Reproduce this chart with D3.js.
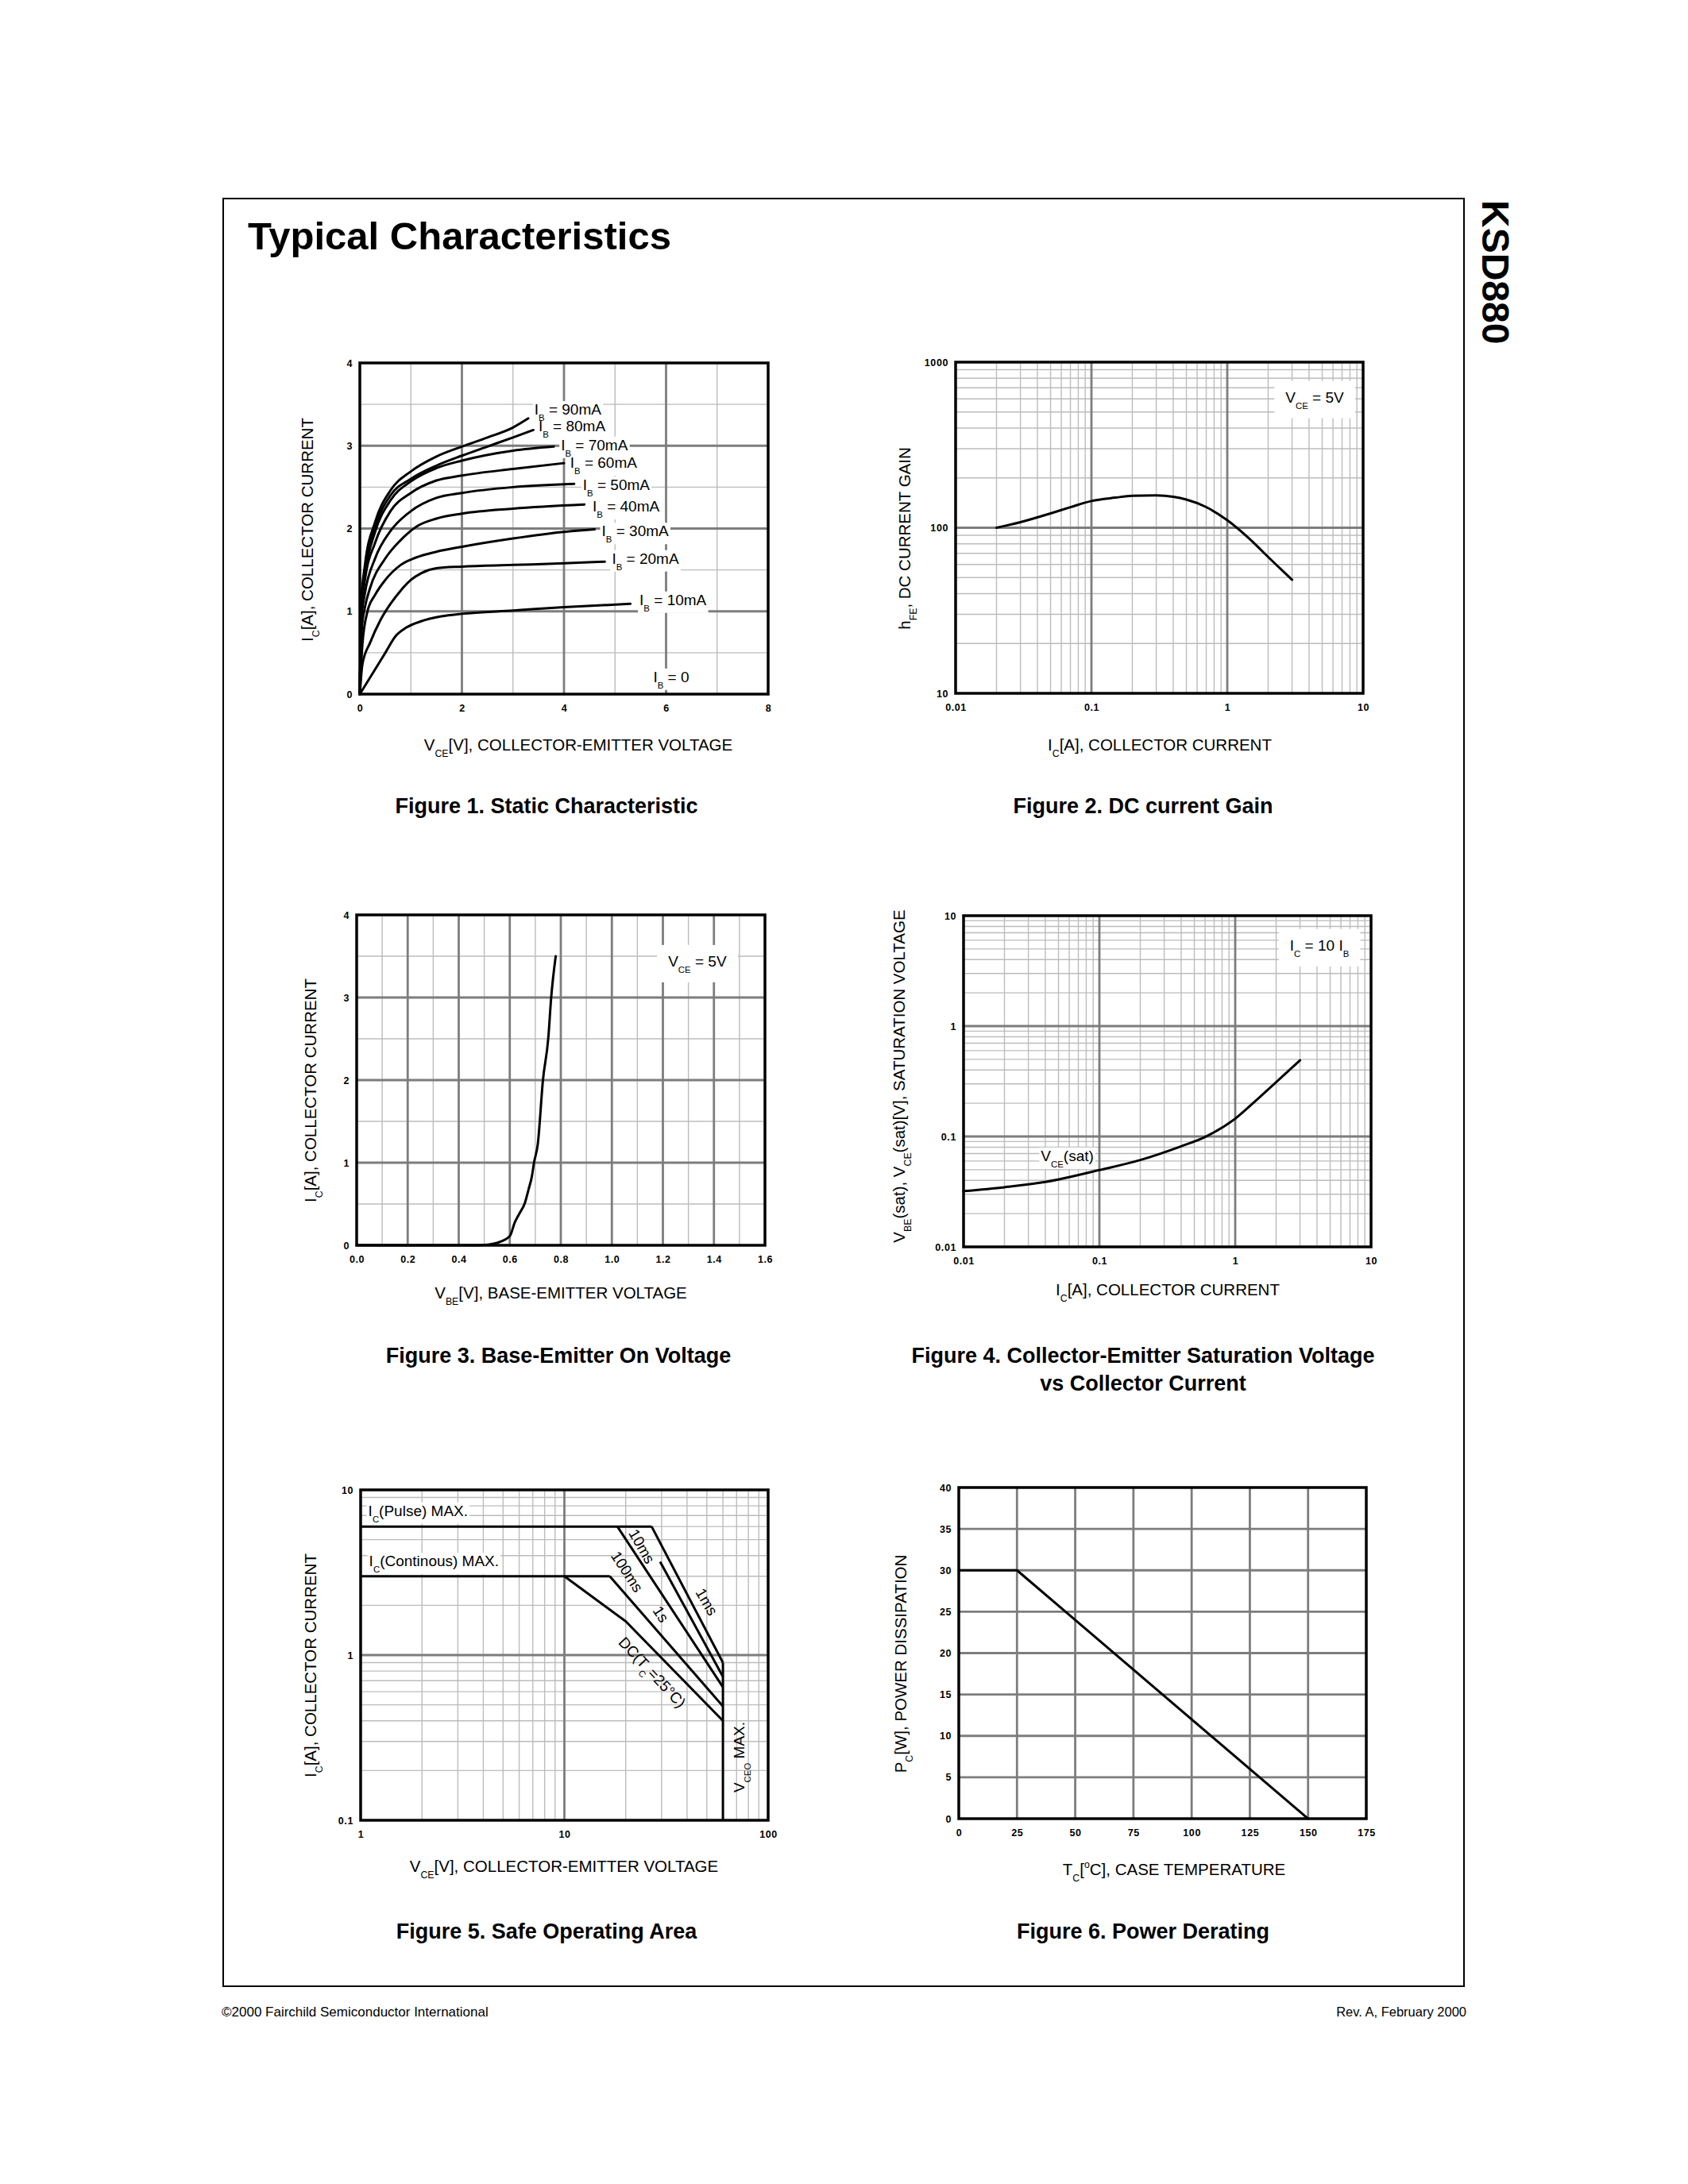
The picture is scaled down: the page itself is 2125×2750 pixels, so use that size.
<!DOCTYPE html>
<html>
<head>
<meta charset="utf-8">
<script src="https://cdn.jsdelivr.net/npm/d3@7"></script>
<style>
  body { margin: 0; background: #fff; }
  text { font-family: "Liberation Sans", Arial, Helvetica, sans-serif; fill: #000; }
</style>
</head>
<body>
<svg id="page" width="2125" height="2750"></svg>
<script>
// ---------- data ----------

// Fig 1 static characteristic, Vce[V] / Ic[A]
const fig1XTicks = [0, 2, 4, 6, 8];
const fig1YTicks = [0, 1, 2, 3, 4];
const ibLabels = ['I_{B} = 90mA', 'I_{B} = 80mA', 'I_{B} = 70mA', 'I_{B} = 60mA', 'I_{B} = 50mA',
                  'I_{B} = 40mA', 'I_{B} = 30mA', 'I_{B} = 20mA', 'I_{B} = 10mA', 'I_{B} = 0'];
const ibLabelAt = [[3.42, 3.44], [3.50, 3.24], [3.94, 3.01], [4.12, 2.80], [4.37, 2.53],
                   [4.56, 2.27], [4.74, 1.97], [4.94, 1.64], [5.48, 1.14], [5.75, 0.21]];
const ib10 = [[0,0],[0.3,0.3],[0.5,0.5],[0.7,0.7],[0.9,0.8],[1.2,0.88],[1.6,0.94],[2,0.97],[3,1.01],[4,1.05],[5.3,1.09]];
const ib20 = [[0,0],[0.05,0.36],[0.2,0.62],[0.4,0.89],[0.6,1.09],[0.8,1.25],[1.0,1.38],[1.2,1.46],[1.5,1.52],[2,1.54],[3,1.56],[4,1.58],[4.8,1.6]];
const ib30 = [[0,0],[0.05,0.6],[0.15,1.0],[0.3,1.2],[0.5,1.38],[0.8,1.56],[1.1,1.65],[1.5,1.72],[2,1.78],[3,1.88],[4,1.96],[4.6,1.99]];
const ib40 = [[0,0],[0.04,0.8],[0.1,1.05],[0.2,1.28],[0.5,1.64],[0.8,1.86],[1.1,2.02],[1.5,2.12],[2,2.18],[3,2.24],[4.4,2.29]];
const ib50 = [[0,0],[0.03,0.9],[0.1,1.22],[0.3,1.64],[0.6,1.97],[1.0,2.21],[1.5,2.37],[2,2.43],[3,2.5],[4.2,2.54]];
const ib60 = [[0,0],[0.03,1.0],[0.1,1.38],[0.3,1.83],[0.6,2.21],[1.0,2.43],[1.5,2.58],[2,2.64],[3,2.72],[4,2.79]];
const ib70 = [[0,0],[0.03,1.05],[0.1,1.44],[0.3,1.96],[0.6,2.34],[1.0,2.57],[1.5,2.73],[2,2.82],[3,2.94],[3.8,2.99]];
const ib80 = [[0,0],[0.03,1.1],[0.1,1.5],[0.3,2.02],[0.6,2.4],[1.0,2.6],[1.5,2.76],[2,2.88],[2.5,2.99],[3,3.1],[3.4,3.19]];
const ib90 = [[0,0],[0.03,1.12],[0.1,1.56],[0.3,2.08],[0.6,2.46],[1.0,2.69],[1.5,2.87],[2,2.99],[2.5,3.1],[3,3.22],[3.3,3.33]];
const ibCurves = [ib10, ib20, ib30, ib40, ib50, ib60, ib70, ib80, ib90];

// Fig 2 DC current gain
const fig2XTicks = [0.01, 0.1, 1, 10];
const fig2YTicks = [10, 100, 1000];
const hfeIc   = [0.02, 0.03, 0.05, 0.07, 0.1, 0.15, 0.2, 0.3, 0.4, 0.5, 0.69, 1, 1.45, 2.06, 3];
const hfeGain = [100, 108, 122, 133, 145, 152, 156, 157, 154, 148, 134, 111, 86, 65, 48.5];
const fig2NoteAt = [4.4, 615];

// Fig 3 base-emitter on voltage
const fig3XTicks = [0, 0.2, 0.4, 0.6, 0.8, 1.0, 1.2, 1.4, 1.6];
const fig3YTicks = [0, 1, 2, 3, 4];
const vbeOn = [0, 0.45, 0.5, 0.55, 0.6, 0.62, 0.637, 0.66, 0.674, 0.687, 0.695, 0.71, 0.73, 0.751, 0.762, 0.78];
const icOn  = [0, 0, 0.005, 0.03, 0.11, 0.28, 0.38, 0.52, 0.68, 0.84, 1.0, 1.23, 2.0, 2.51, 2.99, 3.5];
const fig3NoteAt = [1.335, 3.44];

// Fig 4 saturation voltage
const fig4XTicks = [0.01, 0.1, 1, 10];
const fig4YTicks = [0.01, 0.1, 1, 10];
const satIc  = [0.01, 0.02, 0.04, 0.1, 0.2, 0.4, 0.6, 1, 1.5, 2, 3];
const vceSat = [0.032, 0.0347, 0.0387, 0.0496, 0.0612, 0.0815, 0.099, 0.145, 0.225, 0.31, 0.49];
const fig4NoteAt = [4.17, 5.4];
const vceSatLabelAt = [0.058, 0.067];

// Fig 5 safe operating area, [Vce, Ic]
const fig5XTicks = [1, 10, 100];
const fig5YTicks = [0.1, 1, 10];
const soaPulse = [[1, 6], [26.8, 6]];
const soaCont  = [[1, 3], [16.7, 3]];
const soa1ms   = [[26.8, 6], [60, 0.9]];
const soa10ms  = [[29.5, 3.67], [60, 0.74]];
const soa100ms = [[18.2, 6], [60, 0.64]];
const soa1s    = [[16.7, 3], [60, 0.49]];
const soaDC    = [[10, 3], [20, 1.6], [60, 0.4]];
const soaVceo  = [[60, 0.9], [60, 0.1]];
const soaLines = [soaPulse, soaCont, soa1ms, soa10ms, soa100ms, soa1s, soaDC, soaVceo];
const soaLabels  = ['10ms', '100ms', '1s', '1ms', 'DC(T_{C}=25°C)'];
const soaLabelAt = [[24, 4.55], [20.3, 3.2], [29.8, 1.77], [50, 2.1], [27, 0.787]];
const soaLabelAngle = [60, 57, 57, 60, 47];

// Fig 6 power derating
const fig6XTicks = [0, 25, 50, 75, 100, 125, 150, 175];
const fig6YTicks = [0, 5, 10, 15, 20, 25, 30, 35, 40];
const caseTemp = [0, 25, 150];
const powerDiss = [30, 30, 0];

// ---------- drawing ----------
const svg = d3.select('#page');
svg.append('rect').attr('width', 2125).attr('height', 2750).attr('fill', '#fff');

const MAJOR = '#7d7d7d', MINOR = '#bcbcbc';

// text with _{sub} and ^{sup}
function rich(sel, str, size) {
  const parts = str.split(/(_\{[^}]*\}|\^\{[^}]*\})/).filter(s => s.length);
  let shift = 0;
  parts.forEach(p => {
    const t = sel.append('tspan');
    if (p.startsWith('_{')) {
      const d = size * 0.42;
      t.attr('dy', d - shift).attr('font-size', size * 0.6).text(p.slice(2, -1));
      shift = d;
    } else if (p.startsWith('^{')) {
      const d = -size * 0.42;
      t.attr('dy', d - shift).attr('font-size', size * 0.6).text(p.slice(2, -1));
      shift = d;
    } else {
      t.attr('dy', -shift).text(p);
      shift = 0;
    }
  });
  return sel;
}

// label with optional white box; boxes go in their own layer under all texts
function label(layers, x, y, str, size, opt) {
  opt = opt || {};
  const tf = `translate(${x},${y})` + (opt.rotate ? ` rotate(${opt.rotate})` : '');
  const t = layers.fg.append('text').attr('transform', tf).attr('font-size', size)
    .attr('text-anchor', opt.anchor || 'start')
    .attr('y', size * 0.35);
  rich(t, str, size);
  if (opt.bg !== false) {
    const bb = t.node().getBBox();
    const px = opt.padX == null ? 2 : opt.padX, py = opt.padY == null ? 0 : opt.padY;
    layers.bg.append('rect').attr('transform', tf)
      .attr('x', bb.x - px).attr('y', bb.y - py)
      .attr('width', bb.width + 2 * px).attr('height', bb.height + 2 * py)
      .attr('fill', '#fff');
  }
  return t;
}

function logMinor(lo, hi) {
  const out = [];
  for (let e = Math.floor(Math.log10(lo)); e < Math.ceil(Math.log10(hi)); e++) {
    for (let k = 2; k <= 9; k++) out.push(k * Math.pow(10, e));
  }
  return out.filter(v => v > lo && v < hi);
}
function logMajor(lo, hi) {
  const out = [];
  for (let e = Math.floor(Math.log10(lo)) + 1; e < Math.round(Math.log10(hi)); e++) out.push(Math.pow(10, e));
  return out;
}

function makePanel(box, x, y, grid, xTicks, yTicks, fmtX, fmtY) {
  const g = svg.append('g');
  const gGrid = g.append('g');
  const line = (vals, axis, color, w) => {
    gGrid.selectAll(null).data(vals).enter().append('line')
      .attr('x1', d => axis === 'x' ? x(d) : box.l).attr('x2', d => axis === 'x' ? x(d) : box.r)
      .attr('y1', d => axis === 'x' ? box.t : y(d)).attr('y2', d => axis === 'x' ? box.b : y(d))
      .attr('stroke', color).attr('stroke-width', w);
  };
  line(grid.xMinor, 'x', MINOR, 1.4);
  line(grid.yMinor, 'y', MINOR, 1.4);
  line(grid.xMajor, 'x', MAJOR, 2.8);
  line(grid.yMajor, 'y', MAJOR, 2.8);

  const ax = g.append('g').attr('transform', `translate(0,${box.b})`)
    .call(d3.axisBottom(x).tickValues(xTicks).tickSize(0).tickPadding(13).tickFormat(fmtX));
  const ay = g.append('g').attr('transform', `translate(${box.l},0)`)
    .call(d3.axisLeft(y).tickValues(yTicks).tickSize(0).tickPadding(9).tickFormat(fmtY));
  [ax, ay].forEach(a => {
    a.select('.domain').remove();
    a.selectAll('text').attr('font-size', 12.5).attr('font-weight', 'bold')
      .attr('letter-spacing', 0.6).attr('font-family', '"Liberation Sans", Arial, sans-serif').attr('fill', '#000');
  });
  const under = { bg: g.append('g'), fg: null };
  const plot = g.append('g');
  under.fg = g.append('g');
  const notes = { bg: g.append('g'), fg: null };
  notes.fg = g.append('g');
  g.append('rect').attr('x', box.l).attr('y', box.t)
    .attr('width', box.r - box.l).attr('height', box.b - box.t)
    .attr('fill', 'none').attr('stroke', '#000').attr('stroke-width', 3.5);
  return { plot, notes, under };
}

function yTitle(cx, cy, str) {
  const t = svg.append('text').attr('transform', `translate(${cx + 7.5},${cy}) rotate(-90)`)
    .attr('text-anchor', 'middle').attr('font-size', 20.5);
  rich(t, str, 20.5);
}
function xTitle(cx, cy, str) {
  const t = svg.append('text').attr('x', cx).attr('y', cy + 7.5)
    .attr('text-anchor', 'middle').attr('font-size', 20.5);
  rich(t, str, 20.5);
}
function caption(cx, cy, str) {
  svg.append('text').attr('x', cx).attr('y', cy + 9.5).attr('text-anchor', 'middle')
    .attr('font-size', 27).attr('font-weight', 'bold').text(str);
}
const curve = (x, y, c) => d3.line().x(d => x(d[0])).y(d => y(d[1])).curve(c || d3.curveLinear);
const stroke = sel => sel.attr('fill', 'none').attr('stroke', '#000').attr('stroke-width', 3)
  .attr('stroke-linejoin', 'round').attr('stroke-linecap', 'round');
const str = d => String(d);

// page frame, title, side label, footer
svg.append('rect').attr('x', 281).attr('y', 250).attr('width', 1562).attr('height', 2251)
  .attr('fill', 'none').attr('stroke', '#000').attr('stroke-width', 2);
svg.append('text').attr('x', 312).attr('y', 314).attr('font-size', 49).attr('font-weight', 'bold')
  .text('Typical Characteristics');
svg.append('text').attr('transform', 'translate(1866,252) rotate(90)').attr('font-size', 48)
  .attr('font-weight', 'bold').text('KSD880');
svg.append('text').attr('x', 279).attr('y', 2539).attr('font-size', 17)
  .text('©2000 Fairchild Semiconductor International');
svg.append('text').attr('x', 1846).attr('y', 2539).attr('font-size', 16.5).attr('text-anchor', 'end')
  .text('Rev. A, February 2000');

// ---- Figure 1 ----
{
  const box = { l: 453, t: 457, r: 967, b: 874 };
  const x = d3.scaleLinear().domain([0, 8]).range([box.l, box.r]);
  const y = d3.scaleLinear().domain([0, 4]).range([box.b, box.t]);
  const p = makePanel(box, x, y,
    { xMajor: [2, 4, 6], xMinor: [1, 3, 5, 7], yMajor: [1, 2, 3], yMinor: [0.5, 1.5, 2.5, 3.5] },
    fig1XTicks, fig1YTicks, str, str);
  p.plot.selectAll(null).data(ibCurves).enter().append('path')
    .attr('d', d => curve(x, y, d3.curveMonotoneX)(d)).call(stroke);
  ibLabels.forEach((s, i) => label(p.notes, x(ibLabelAt[i][0]), y(ibLabelAt[i][1]), s, 19));
  yTitle(386, 667, 'I_{C}[A], COLLECTOR CURRENT');
  xTitle(728, 937, 'V_{CE}[V], COLLECTOR-EMITTER VOLTAGE');
  caption(688, 1014, 'Figure 1. Static Characteristic');
}

// ---- Figure 2 ----
{
  const box = { l: 1203, t: 456, r: 1716, b: 873 };
  const x = d3.scaleLog().domain([0.01, 10]).range([box.l, box.r]);
  const y = d3.scaleLog().domain([10, 1000]).range([box.b, box.t]);
  const p = makePanel(box, x, y,
    { xMajor: logMajor(0.01, 10), xMinor: logMinor(0.01, 10), yMajor: logMajor(10, 1000), yMinor: logMinor(10, 1000) },
    fig2XTicks, fig2YTicks, str, str);
  p.plot.append('path').attr('d', curve(x, y, d3.curveMonotoneX)(hfeIc.map((v, i) => [v, hfeGain[i]]))).call(stroke);
  label(p.notes, x(fig2NoteAt[0]), y(fig2NoteAt[1]), 'V_{CE} = 5V', 19, { anchor: 'middle', padX: 14, padY: 10 });
  yTitle(1138, 678, 'h_{FE}, DC CURRENT GAIN');
  xTitle(1460, 937, 'I_{C}[A], COLLECTOR CURRENT');
  caption(1439, 1014, 'Figure 2. DC current Gain');
}

// ---- Figure 3 ----
{
  const box = { l: 449, t: 1152, r: 963, b: 1568 };
  const x = d3.scaleLinear().domain([0, 1.6]).range([box.l, box.r]);
  const y = d3.scaleLinear().domain([0, 4]).range([box.b, box.t]);
  const p = makePanel(box, x, y,
    { xMajor: [0.2, 0.4, 0.6, 0.8, 1.0, 1.2, 1.4], xMinor: [0.1, 0.3, 0.5, 0.7, 0.9, 1.1, 1.3, 1.5],
      yMajor: [1, 2, 3], yMinor: [0.5, 1.5, 2.5, 3.5] },
    fig3XTicks, fig3YTicks, d3.format('.1f'), str);
  p.plot.append('path').attr('d', curve(x, y, d3.curveMonotoneX)(vbeOn.map((v, i) => [v, icOn[i]]))).call(stroke);
  label(p.notes, x(fig3NoteAt[0]), y(fig3NoteAt[1]), 'V_{CE} = 5V', 19, { anchor: 'middle', padX: 14, padY: 10 });
  yTitle(390, 1373, 'I_{C}[A], COLLECTOR CURRENT');
  xTitle(706, 1627, 'V_{BE}[V], BASE-EMITTER VOLTAGE');
  caption(703, 1706, 'Figure 3. Base-Emitter On Voltage');
}

// ---- Figure 4 ----
{
  const box = { l: 1213, t: 1153, r: 1726, b: 1570 };
  const x = d3.scaleLog().domain([0.01, 10]).range([box.l, box.r]);
  const y = d3.scaleLog().domain([0.01, 10]).range([box.b, box.t]);
  const p = makePanel(box, x, y,
    { xMajor: logMajor(0.01, 10), xMinor: logMinor(0.01, 10), yMajor: logMajor(0.01, 10), yMinor: logMinor(0.01, 10) },
    fig4XTicks, fig4YTicks, str, str);
  p.plot.append('path').attr('d', curve(x, y, d3.curveMonotoneX)(satIc.map((v, i) => [v, vceSat[i]]))).call(stroke);
  label(p.notes, x(fig4NoteAt[0]), y(fig4NoteAt[1]), 'I_{C} = 10 I_{B}', 19, { anchor: 'middle', padX: 14, padY: 10 });
  label(p.notes, x(vceSatLabelAt[0]), y(vceSatLabelAt[1]), 'V_{CE}(sat)', 19, { anchor: 'middle' });
  yTitle(1131, 1355, 'V_{BE}(sat), V_{CE}(sat)[V], SATURATION VOLTAGE');
  xTitle(1470, 1623, 'I_{C}[A], COLLECTOR CURRENT');
  caption(1439, 1706, 'Figure 4. Collector-Emitter Saturation Voltage');
  caption(1439, 1741, 'vs Collector Current');
}

// ---- Figure 5 ----
{
  const box = { l: 454, t: 1876, r: 967, b: 2292 };
  const x = d3.scaleLog().domain([1, 100]).range([box.l, box.r]);
  const y = d3.scaleLog().domain([0.1, 10]).range([box.b, box.t]);
  const p = makePanel(box, x, y,
    { xMajor: logMajor(1, 100), xMinor: logMinor(1, 100), yMajor: logMajor(0.1, 10), yMinor: logMinor(0.1, 10) },
    fig5XTicks, fig5YTicks, str, str);
  label(p.under, x(1.09), y(7.5), 'I_{C}(Pulse) MAX.', 19);
  label(p.under, x(1.1), y(3.71), 'I_{C}(Continous) MAX.', 19);
  p.plot.selectAll(null).data(soaLines).enter().append('path')
    .attr('d', d => curve(x, y)(d)).call(stroke).attr('stroke-linecap', 'butt');
  soaLabels.forEach((s, i) => label(p.notes, x(soaLabelAt[i][0]), y(soaLabelAt[i][1]), s, 19,
    { anchor: 'middle', rotate: soaLabelAngle[i], bg: false }));
  const vt = p.notes.fg.append('text').attr('transform', `translate(${x(72) + 6.5},${y(0.241)}) rotate(-90)`)
    .attr('text-anchor', 'middle').attr('font-size', 19);
  rich(vt, 'V_{CEO} MAX.', 19);
  yTitle(390, 2097, 'I_{C}[A], COLLECTOR CURRENT');
  xTitle(710, 2349, 'V_{CE}[V], COLLECTOR-EMITTER VOLTAGE');
  caption(688, 2431, 'Figure 5. Safe Operating Area');
}

// ---- Figure 6 ----
{
  const box = { l: 1207, t: 1873, r: 1720, b: 2290 };
  const x = d3.scaleLinear().domain([0, 175]).range([box.l, box.r]);
  const y = d3.scaleLinear().domain([0, 40]).range([box.b, box.t]);
  const p = makePanel(box, x, y,
    { xMajor: fig6XTicks.slice(1, -1), xMinor: [], yMajor: fig6YTicks.slice(1, -1), yMinor: [] },
    fig6XTicks, fig6YTicks, str, str);
  p.plot.append('path').attr('d', curve(x, y)(caseTemp.map((v, i) => [v, powerDiss[i]]))).call(stroke);
  yTitle(1133, 2095, 'P_{C}[W], POWER DISSIPATION');
  xTitle(1478, 2353, 'T_{C}[^{o}C], CASE TEMPERATURE');
  caption(1439, 2431, 'Figure 6. Power Derating');
}
</script>
</body>
</html>
